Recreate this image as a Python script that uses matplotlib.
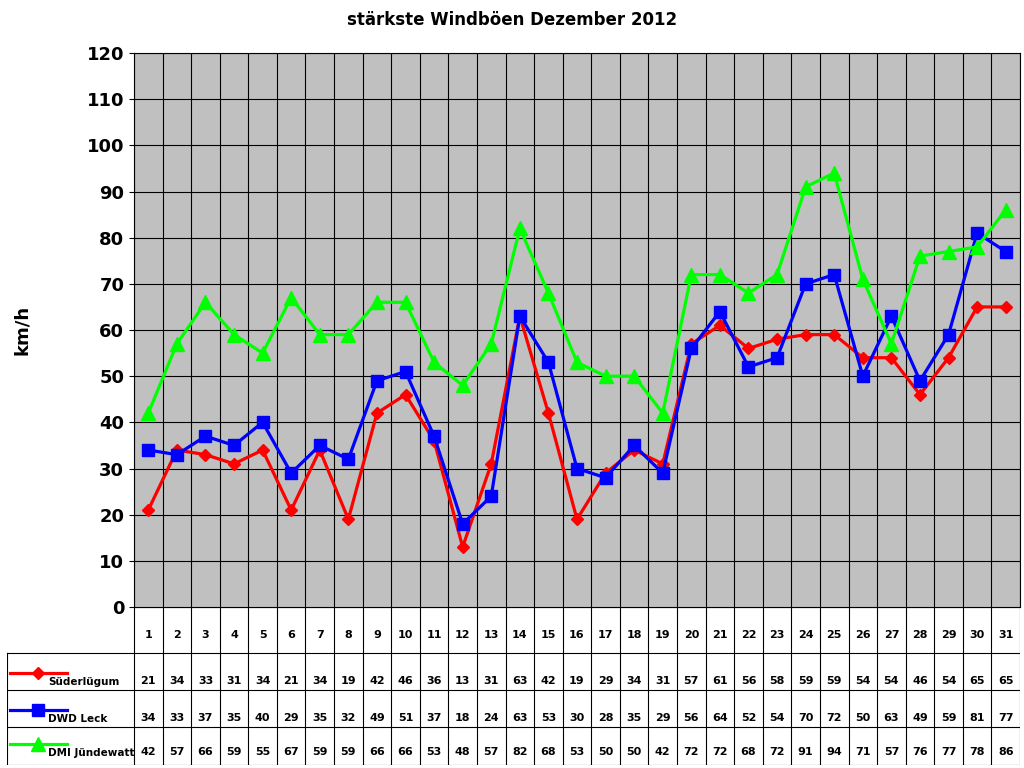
import matplotlib
matplotlib.use("Agg")
import matplotlib.pyplot as plt

days = list(range(1, 32))
sued = [21,34,33,31,34,21,34,19,42,46,36,13,31,63,42,19,29,34,31,57,61,56,58,59,59,54,54,46,54,65,65]
leck = [34,33,37,35,40,29,35,32,49,51,37,18,24,63,53,30,28,35,29,56,64,52,54,70,72,50,63,49,59,81,77]
dmi  = [42,57,66,59,55,67,59,59,66,66,53,48,57,82,68,53,50,50,42,72,72,68,72,91,94,71,57,76,77,78,86]
names = ["Süderlügum", "DWD Leck", "DMI Jündewatt"]
series = [sued, leck, dmi]
colors = ["#ff0000", "#0000ff", "#00ff00"]
markers = ["D", "s", "^"]
msizes = [6.5, 8.5, 10]

W, H = 1024, 768
fig = plt.figure(figsize=(W/100, H/100), dpi=100)
L, R, T, B = 134, 1020, 53, 607
ax = fig.add_axes([L/W, 1-B/H, (R-L)/W, (B-T)/H])
ax.set_facecolor("#c0c0c0")
n = len(days)
x = list(range(n))
for s, c, m, ms in zip(series, colors, markers, msizes):
    ax.plot(x, s, color=c, marker=m, markersize=ms, linewidth=2.3, zorder=3)
ax.set_xlim(-0.5, n-0.5)
ax.set_ylim(0, 120)
ax.set_yticks(range(0, 121, 10))
ax.set_yticklabels([str(v) for v in range(0, 121, 10)], fontsize=13, fontweight="bold")
ax.set_xticks([])
for i in range(n+1):
    ax.axvline(i-0.5, color="black", linewidth=0.8, zorder=1)
for v in range(10, 121, 10):
    ax.axhline(v, color="black", linewidth=0.8, zorder=1)
ax.set_ylabel("km/h", fontsize=13, fontweight="bold", labelpad=40)
fig.text(0.5, 1-20/H, "stärkste Windböen Dezember 2012", ha="center", va="center",
         fontsize=12, fontweight="bold")

# table
TL, TB = 7, 765
axt = fig.add_axes([TL/W, 1-TB/H, (R-TL)/W, (TB-B)/H])
colw = (R-L)/n
left = -0.5 - (L-TL)/colw
axt.set_xlim(left, n-0.5)
axt.set_ylim(TB, B)
axt.axis("off")
rows = [B, 653, 690, 727, TB]
for y in rows:
    axt.plot([left if y != B else -0.5, n-0.5], [y, y], color="black", lw=0.8)
for i in range(n+1):
    axt.plot([i-0.5, i-0.5], [B, TB], color="black", lw=0.8)
axt.plot([left, left], [653, TB], color="black", lw=0.8)
for i, d in enumerate(days):
    axt.text(i, 635, str(d), ha="center", va="center", fontsize=8, fontweight="bold")
ys = [681, 718, 752]
for r, (nm, s, c, m, ms) in enumerate(zip(names, series, colors, markers, msizes)):
    y = ys[r]
    for i, v in enumerate(s):
        axt.text(i, y, str(v), ha="center", va="center", fontsize=8, fontweight="bold")
    axt.plot([left+0.1, left+2.1], [y-8, y-8], color=c, lw=2.3)
    axt.plot([left+1.1], [y-8], color=c, marker=m, markersize=ms, linestyle="none")
    axt.text(left+1.45, y+1, nm, ha="left", va="center", fontsize=7.5, fontweight="bold")

fig.savefig("out.png", dpi=100)
